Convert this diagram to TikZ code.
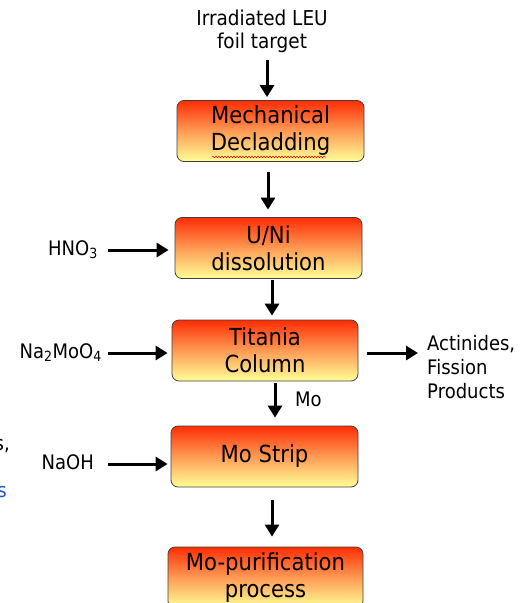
\documentclass[tikz,border=0pt]{standalone}
\usepackage{fontspec}
\setmainfont{DejaVu Sans}[FakeStretch=0.9]
\usetikzlibrary{arrows.meta,decorations.pathmorphing}
\definecolor{boxtop}{RGB}{255,45,5}
\definecolor{boxmid}{RGB}{255,155,85}
\definecolor{boxbot}{RGB}{255,255,150}
\definecolor{fragblue}{RGB}{30,90,190}
\begin{document}
\begin{tikzpicture}[x=1pt,y=-1pt,
  proc/.style={draw=black!75, line width=0.8pt, rounded corners=7pt,
    top color=boxtop, bottom color=boxbot, middle color=boxmid,
    inner sep=0pt, align=center, minimum height=61pt,
    font=\fontsize{23.5}{27}\selectfont},
  lab/.style={inner sep=0pt, text height=10pt, text depth=0pt,
    font=\fontsize{20}{24}\selectfont},
  mlab/.style={inner sep=0pt, align=center, font=\fontsize{20.5}{23}\selectfont},
  arr/.style={line width=3pt, -{Triangle[width=14pt,length=12pt]}}]
\useasboundingbox (0,0) rectangle (522,603);
\clip (0,0) rectangle (522,603);

% process boxes
\node[proc, minimum width=187pt] (b1) at (270.5,131) {Mechanical\\Decladding};
\node[proc, minimum width=187pt] (b2) at (268.5,248) {U/Ni\\dissolution};
\node[proc, minimum width=186pt] (b3) at (265,350.5) {Titania\\Column};
\node[proc, minimum width=187pt] (b4) at (264.5,456.5) {Mo Strip};
\node[proc, minimum width=195pt] (b5) at (265.5,577.5) {Mo-purification\\process};

% spell-check underline
\coordinate (sq1) at (212,157);
\coordinate (sq2) at (326,157);
\draw[red!85!black, line width=0.5pt, decorate,
  decoration={snake, segment length=3pt, amplitude=0.8pt}] (sq1) -- (sq2);

% input labels
\node[mlab, anchor=south] (src) at (262,53) {Irradiated LEU\\foil target};
\node[lab, anchor=east] (hno) at (98,250) {HNO\textsubscript{3}};
\node[lab, anchor=east] (na) at (102,353) {Na\textsubscript{2}MoO\textsubscript{4}};
\node[lab, anchor=east] (naoh) at (94,464) {NaOH};
\node[mlab, align=left, anchor=west, font=\fontsize{20}{24}\selectfont] (act) at (427,367) {Actinides,\\Fission\\Products};
\node[lab, anchor=west] (mo) at (295,401) {Mo};

% cropped fragments at the left edge
\node[lab, anchor=base east] (fr1) at (10,450) {es,};
\node[lab, anchor=base east, text=fragblue] (fr2) at (7,497) {s};

% vertical arrows
\draw[arr] ([xshift=5pt, yshift=-7pt]src.south) -- ([xshift=-3.5pt, yshift=3pt]b1.north);
\draw[arr] ([xshift=-2.5pt, yshift=-10.5pt]b1.south) -- ([xshift=-0.5pt, yshift=7.5pt]b2.north);
\draw[arr] ([xshift=3.5pt, yshift=-1.5pt]b2.south) -- ([xshift=7pt, yshift=4pt]b3.north);
\draw[arr] ([xshift=10pt, yshift=-2pt]b3.south) -- ([xshift=10.5pt, yshift=8pt]b4.north);
\draw[arr] ([xshift=7.5pt, yshift=-13pt]b4.south) -- ([xshift=6.5pt, yshift=10pt]b5.north);

% horizontal arrows
\draw[arr] ([xshift=10pt]hno.east) -- ([xshift=-6pt]hno.east -| b2.west);
\draw[arr] ([xshift=6pt]na.east) -- ([xshift=-4pt]na.east -| b3.west);
\draw[arr] ([xshift=14pt]naoh.east) -- ([xshift=-3pt]naoh.east -| b4.west);
\draw[arr] ([xshift=9pt, yshift=-2.5pt]b3.east) -- ([xshift=-9pt, yshift=-2.5pt]b3.east -| act.west);
\end{tikzpicture}
\end{document}
